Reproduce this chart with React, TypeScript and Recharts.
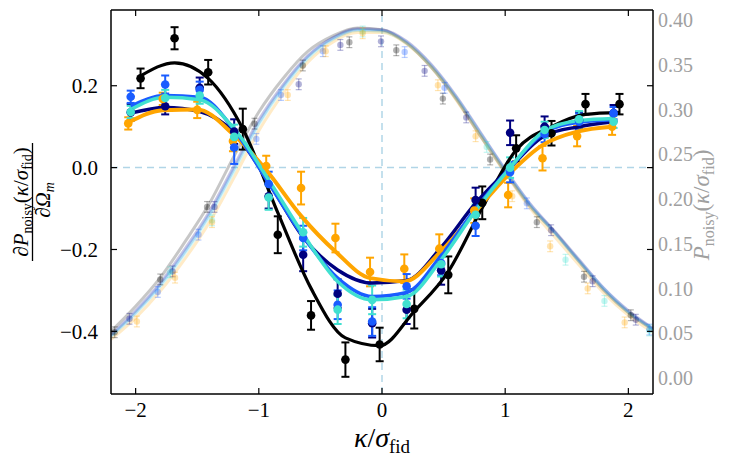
import React from 'react';
import { ComposedChart, Line, Scatter, XAxis, YAxis, ErrorBar, ReferenceLine } from 'recharts';

// derivative dP/dOmega_m, one array set per colour
const BLACK_X = [-1.96, -1.684, -1.411, -1.13, -0.846, -0.576, -0.297, -0.019, 0.262, 0.538, 0.814, 1.089, 1.376, 1.652, 1.928];
const BLACK_Y = [0.218, 0.316, 0.233, 0.094, -0.164, -0.361, -0.469, -0.432, -0.345, -0.262, -0.086, 0.047, 0.084, 0.155, 0.155];
const BLACK_ERR = [0.024, 0.027, 0.03, 0.05, 0.045, 0.035, 0.042, 0.041, 0.048, 0.045, 0.04, 0.032, 0.03, 0.025, 0.025];
const BLACK_FIT = [0.224, 0.256, 0.218, 0.095, -0.11, -0.295, -0.416, -0.435, -0.351, -0.254, -0.098, 0.043, 0.1, 0.13, 0.135];

const MID_X = [-2.04, -1.76, -1.48, -1.2, -0.92, -0.64, -0.36, -0.08, 0.2, 0.48, 0.76, 1.04, 1.32, 1.6, 1.88];

const NAVY_Y = [0.135, 0.15, 0.195, 0.088, -0.07, -0.213, -0.308, -0.38, -0.347, -0.251, -0.079, 0.085, 0.1, 0.116, 0.133];
const NAVY_ERR = [0.02, 0.02, 0.025, 0.03, 0.03, 0.04, 0.035, 0.035, 0.035, 0.035, 0.03, 0.03, 0.025, 0.02, 0.02];
const NAVY_FIT = [0.133, 0.147, 0.137, 0.085, -0.035, -0.17, -0.25, -0.282, -0.276, -0.195, -0.087, 0.0, 0.078, 0.1, 0.112];

const BLUE_Y = [0.173, 0.203, 0.19, 0.049, -0.04, -0.172, -0.335, -0.376, -0.29, -0.233, -0.142, -0.011, 0.082, 0.112, 0.133];
const BLUE_ERR = [0.015, 0.022, 0.02, 0.04, 0.03, 0.03, 0.035, 0.035, 0.03, 0.03, 0.025, 0.025, 0.02, 0.02, 0.015];
const BLUE_FIT = [0.15, 0.176, 0.172, 0.092, -0.038, -0.168, -0.27, -0.315, -0.305, -0.215, -0.1, 0.0, 0.086, 0.111, 0.117];

const TURQ_Y = [0.136, 0.17, 0.176, 0.075, -0.073, -0.158, -0.347, -0.323, -0.333, -0.236, -0.115, 0.0, 0.092, 0.118, 0.112];
const TURQ_ERR = [0.015, 0.02, 0.02, 0.03, 0.03, 0.035, 0.035, 0.035, 0.035, 0.03, 0.025, 0.025, 0.02, 0.02, 0.015];
const TURQ_FIT = [0.142, 0.172, 0.166, 0.095, -0.03, -0.163, -0.278, -0.323, -0.315, -0.225, -0.105, 0.0, 0.09, 0.115, 0.12];

const ORANGE_X = [-2.06, -1.78, -1.5, -1.21, -0.94, -0.657, -0.378, -0.097, 0.181, 0.465, 0.749, 1.024, 1.303, 1.584, 1.868];
const ORANGE_Y = [0.108, 0.168, 0.141, 0.065, 0.004, -0.05, -0.172, -0.255, -0.247, -0.198, -0.105, -0.067, 0.023, 0.077, 0.1];
const ORANGE_ERR = [0.015, 0.015, 0.02, 0.025, 0.025, 0.04, 0.035, 0.035, 0.035, 0.035, 0.03, 0.03, 0.03, 0.025, 0.02];
const ORANGE_FIT = [0.11, 0.14, 0.142, 0.082, -0.006, -0.118, -0.205, -0.27, -0.278, -0.209, -0.111, -0.018, 0.055, 0.088, 0.1];

// P_noisy (right axis), faded
const P_GRID = [-2.2, -2.0, -1.8, -1.6, -1.4, -1.2, -1.0, -0.8, -0.6, -0.4, -0.2, 0.0, 0.2, 0.4, 0.6, 0.8, 1.0, 1.2, 1.4, 1.6, 1.8, 2.0, 2.2];
const P_BLACK_FIT = [0.052, 0.08, 0.112, 0.152, 0.195, 0.248, 0.297, 0.335, 0.365, 0.382, 0.391, 0.389, 0.374, 0.347, 0.312, 0.27, 0.23, 0.192, 0.163, 0.13, 0.098, 0.073, 0.054];
const P_NAVY_FIT = [0.048, 0.075, 0.106, 0.144, 0.186, 0.237, 0.288, 0.328, 0.36, 0.38, 0.39, 0.389, 0.376, 0.35, 0.315, 0.274, 0.233, 0.195, 0.164, 0.132, 0.1, 0.075, 0.055];
const P_BLUE_FIT = [0.047, 0.073, 0.104, 0.141, 0.183, 0.234, 0.285, 0.326, 0.359, 0.379, 0.389, 0.388, 0.375, 0.349, 0.314, 0.273, 0.232, 0.194, 0.163, 0.131, 0.1, 0.074, 0.055];
const P_TURQ_FIT = [0.046, 0.072, 0.102, 0.139, 0.181, 0.231, 0.283, 0.324, 0.357, 0.378, 0.388, 0.387, 0.374, 0.348, 0.313, 0.272, 0.231, 0.193, 0.162, 0.13, 0.099, 0.073, 0.054];
const P_ORANGE_FIT = [0.043, 0.067, 0.097, 0.133, 0.174, 0.224, 0.276, 0.318, 0.353, 0.375, 0.386, 0.386, 0.373, 0.347, 0.311, 0.27, 0.229, 0.19, 0.158, 0.126, 0.095, 0.07, 0.051];

const P_BLACK_X = [-2.17, -1.8, -1.42, -1.035, -0.643, -0.265, 0.116, 0.494, 0.878, 1.257, 1.64, 2.02];
const P_BLACK_Y = [0.051, 0.11, 0.191, 0.284, 0.349, 0.375, 0.366, 0.312, 0.244, 0.174, 0.113, 0.07];
const P_NAVY_X = [-2.05, -1.7, -1.36, -0.676, -0.338, -0.008, 0.346, 0.684, 1.373, 1.71, 2.06];
const P_NAVY_Y = [0.066, 0.119, 0.191, 0.328, 0.372, 0.376, 0.343, 0.291, 0.165, 0.108, 0.065];
const P_BLUE_X = [-1.82, -1.49, -1.02, -0.82, -0.48, 0.184, 0.508, 1.176, 2.17];
const P_BLUE_Y = [0.096, 0.16, 0.267, 0.316, 0.365, 0.364, 0.324, 0.195, 0.054];
const P_TURQ_X = [-1.72, -1.38, -0.157, 0.85, 1.49, 1.806, 2.17];
const P_TURQ_Y = [0.118, 0.176, 0.387, 0.258, 0.132, 0.086, 0.053];
const P_ORANGE_X = [-1.99, -1.68, -1.38, -0.765, -0.457, -0.157, 0.454, 0.76, 1.057, 1.365, 1.67, 1.97];
const P_ORANGE_Y = [0.063, 0.112, 0.174, 0.316, 0.365, 0.385, 0.327, 0.27, 0.203, 0.147, 0.1, 0.062];
const P_ERR = 0.006;

const X_TICKS = [-2, -1, 0, 1, 2];
const LEFT_TICKS = [-0.4, -0.2, 0.0, 0.2];
const RIGHT_TICKS = [0.0, 0.05, 0.1, 0.15, 0.2, 0.25, 0.3, 0.35, 0.4];
const X_DOMAIN: [number, number] = [-2.2, 2.2];
const LEFT_DOMAIN: [number, number] = [-0.553, 0.385];
const RIGHT_DOMAIN: [number, number] = [-0.018, 0.411];

const COLORS = {
  black: '#000000',
  navy: '#00007f',
  blue: '#1a5cff',
  turq: '#40e0d0',
  orange: '#ffa500',
};

const W = 727;
const H = 457;
const LEFT_W = 103;
const RIGHT_W = 82;
const X_H = 71;
const TOP = 2;
const PLOT_L = LEFT_W;
const PLOT_R = W - RIGHT_W;
const PLOT_T = TOP;
const PLOT_B = H - X_H;
const FONT = '"Liberation Serif", "Times New Roman", serif';

const pts = (xs: number[], ys: number[], errs?: number[] | number) =>
  xs.map((x, i) => ({ x, y: ys[i], e: Array.isArray(errs) ? errs[i] : errs ?? 0 }));

const fmtNum = (v: number, digits: number) => {
  const s = Math.abs(v).toFixed(digits);
  return v < -1e-9 ? '\u2212' + s : s;
};

function LeftTick(props: any) {
  const { y, payload } = props;
  return (
    <g>
      <line x1={PLOT_L} x2={PLOT_L + 6} y1={y} y2={y} stroke="#000" strokeWidth={1.2} />
      <line x1={PLOT_R} x2={PLOT_R - 6} y1={y} y2={y} stroke="#000" strokeWidth={1.2} />
      <text x={PLOT_L - 13} y={y} dy="0.36em" textAnchor="end" fontFamily={FONT} fontSize={21} fill="#000">
        {fmtNum(payload.value, 1)}
      </text>
    </g>
  );
}

function RightTick(props: any) {
  const { y, payload } = props;
  return (
    <text x={PLOT_R + 5} y={y} dy="0.36em" textAnchor="start" fontFamily={FONT} fontSize={20} fill="#a0a0a0">
      {fmtNum(payload.value, 2)}
    </text>
  );
}

function BottomTick(props: any) {
  const { x, payload } = props;
  return (
    <g>
      <line x1={x} x2={x} y1={PLOT_B} y2={PLOT_B - 6} stroke="#000" strokeWidth={1.2} />
      <line x1={x} x2={x} y1={PLOT_T} y2={PLOT_T + 6} stroke="#000" strokeWidth={1.2} />
      <text x={x} y={PLOT_B + 23} textAnchor="middle" fontFamily={FONT} fontSize={21} fill="#000">
        {fmtNum(payload.value, 0)}
      </text>
    </g>
  );
}

const dot = (color: string, r: number, opacity = 1) => (p: any) =>
  <circle cx={p.cx} cy={p.cy} r={r} fill={color} fillOpacity={opacity} stroke="none" />;

export default function App() {
  const fitData = (xs: number[], ys: number[]) => xs.map((x, i) => ({ x, y: ys[i] }));

  const pSeries = [
    { key: 'pblack', color: COLORS.black, fit: P_BLACK_FIT, px: P_BLACK_X, py: P_BLACK_Y },
    { key: 'pnavy', color: COLORS.navy, fit: P_NAVY_FIT, px: P_NAVY_X, py: P_NAVY_Y },
    { key: 'pblue', color: COLORS.blue, fit: P_BLUE_FIT, px: P_BLUE_X, py: P_BLUE_Y },
    { key: 'pturq', color: COLORS.turq, fit: P_TURQ_FIT, px: P_TURQ_X, py: P_TURQ_Y },
    { key: 'porange', color: COLORS.orange, fit: P_ORANGE_FIT, px: P_ORANGE_X, py: P_ORANGE_Y },
  ];

  const dSeries = [
    { key: 'black', color: COLORS.black, xs: BLACK_X, ys: BLACK_Y, errs: BLACK_ERR, fit: BLACK_FIT, w: 3.2 },
    { key: 'navy', color: COLORS.navy, xs: MID_X, ys: NAVY_Y, errs: NAVY_ERR, fit: NAVY_FIT, w: 3.5 },
    { key: 'orange', color: COLORS.orange, xs: ORANGE_X, ys: ORANGE_Y, errs: ORANGE_ERR, fit: ORANGE_FIT, w: 4 },
    { key: 'blue', color: COLORS.blue, xs: MID_X, ys: BLUE_Y, errs: BLUE_ERR, fit: BLUE_FIT, w: 3.5 },
    { key: 'turq', color: COLORS.turq, xs: MID_X, ys: TURQ_Y, errs: TURQ_ERR, fit: TURQ_FIT, w: 3.5 },
  ];

  return (
    <div style={{ position: 'relative', width: W, height: H }}>
      <ComposedChart width={W} height={H} margin={{ top: TOP, right: 0, bottom: 0, left: 0 }}>
        <XAxis
          dataKey="x"
          type="number"
          domain={X_DOMAIN}
          ticks={X_TICKS}
          allowDataOverflow
          height={X_H}
          tickLine={false}
          axisLine={{ stroke: '#000', strokeWidth: 1.5 }}
          tick={<BottomTick />}
          interval={0}
        />
        <YAxis
          yAxisId="left"
          type="number"
          domain={LEFT_DOMAIN}
          ticks={LEFT_TICKS}
          allowDataOverflow
          width={LEFT_W}
          tickLine={false}
          axisLine={{ stroke: '#000', strokeWidth: 1.5 }}
          tick={<LeftTick />}
          interval={0}
        />
        <YAxis
          yAxisId="right"
          orientation="right"
          type="number"
          domain={RIGHT_DOMAIN}
          ticks={RIGHT_TICKS}
          allowDataOverflow
          width={RIGHT_W}
          tickLine={false}
          axisLine={{ stroke: '#000', strokeWidth: 1.5 }}
          tick={<RightTick />}
          interval={0}
        />
        <ReferenceLine yAxisId="left" y={LEFT_DOMAIN[1]} stroke="#000" strokeWidth={1.5} />
        <ReferenceLine yAxisId="left" y={0} stroke="#9ecae1" strokeOpacity={0.8} strokeWidth={1.5} strokeDasharray="7 5" />
        <ReferenceLine yAxisId="left" x={0} stroke="#9ecae1" strokeOpacity={0.8} strokeWidth={1.5} strokeDasharray="7 5" />

        {pSeries.map((s) => (
          <Line
            key={s.key + '-fit'}
            yAxisId="right"
            data={fitData(P_GRID, s.fit)}
            dataKey="y"
            type="monotone"
            stroke={s.color}
            strokeOpacity={0.22}
            strokeWidth={3}
            dot={false}
            activeDot={false}
            isAnimationActive={false}
          />
        ))}
        {pSeries.map((s) => (
          <Scatter
            key={s.key + '-pts'}
            yAxisId="right"
            data={pts(s.px, s.py, P_ERR)}
            dataKey="y"
            shape={dot(s.color, 3.2, 0.3)}
            isAnimationActive={false}
          >
            <ErrorBar dataKey="e" direction="y" width={3} stroke={s.color} strokeOpacity={0.3} strokeWidth={1.2} />
          </Scatter>
        ))}

        {dSeries.map((s) => (
          <Scatter
            key={s.key + '-pts'}
            yAxisId="left"
            data={pts(s.xs, s.ys, s.errs)}
            dataKey="y"
            shape={dot(s.color, 4.3)}
            isAnimationActive={false}
          >
            <ErrorBar dataKey="e" direction="y" width={4} stroke={s.color} strokeWidth={2} />
          </Scatter>
        ))}
        {dSeries.map((s) => (
          <Line
            key={s.key + '-fit'}
            yAxisId="left"
            data={fitData(s.xs, s.fit)}
            dataKey="y"
            type="monotone"
            stroke={s.color}
            strokeWidth={s.w}
            dot={false}
            activeDot={false}
            isAnimationActive={false}
          />
        ))}
      </ComposedChart>

      <svg width={W} height={H} style={{ position: 'absolute', left: 0, top: 0, pointerEvents: 'none' }}>
        {/* x label */}
        <text x={374} y={439} textAnchor="middle" fontFamily={FONT} fontSize={28} fill="#000">
          <tspan fontStyle="italic">κ</tspan>
          <tspan>/</tspan>
          <tspan fontStyle="italic">σ</tspan>
          <tspan fontSize={19} dy={6}>fid</tspan>
        </text>

        {/* right label */}
        <g transform="translate(701, 197) rotate(-90)">
          <text x={0} y={0} textAnchor="middle" fontFamily={FONT} fontSize={23} fill="#a0a0a0">
            <tspan fontStyle="italic">P</tspan>
            <tspan fontSize={16} dy={5}>noisy</tspan>
            <tspan dy={-5}>(</tspan>
            <tspan fontStyle="italic">κ</tspan>
            <tspan>/</tspan>
            <tspan fontStyle="italic">σ</tspan>
            <tspan fontSize={16} dy={5}>fid</tspan>
            <tspan dy={-5}>)</tspan>
          </text>
        </g>

        {/* left label: fraction */}
        <g transform="translate(20, 194) rotate(-90)">
          <text x={0} y={0} textAnchor="middle" fontFamily={FONT} fontSize={21} fill="#000">
            <tspan fontStyle="italic">∂P</tspan>
            <tspan fontSize={14} dy={4}>noisy</tspan>
            <tspan dy={-4}>(</tspan>
            <tspan fontStyle="italic">κ</tspan>
            <tspan>/</tspan>
            <tspan fontStyle="italic">σ</tspan>
            <tspan fontSize={14} dy={4}>fid</tspan>
            <tspan dy={-4}>)</tspan>
          </text>
        </g>
        <line x1={24.5} x2={24.5} y1={135} y2={253} stroke="#000" strokeWidth={1.3} />
        <g transform="translate(42, 192) rotate(-90)">
          <text x={0} y={0} textAnchor="middle" fontFamily={FONT} fontSize={21} fill="#000">
            <tspan fontStyle="italic">∂Ω</tspan>
            <tspan fontSize={14} dy={4} fontStyle="italic">m</tspan>
          </text>
        </g>
      </svg>
    </div>
  );
}
